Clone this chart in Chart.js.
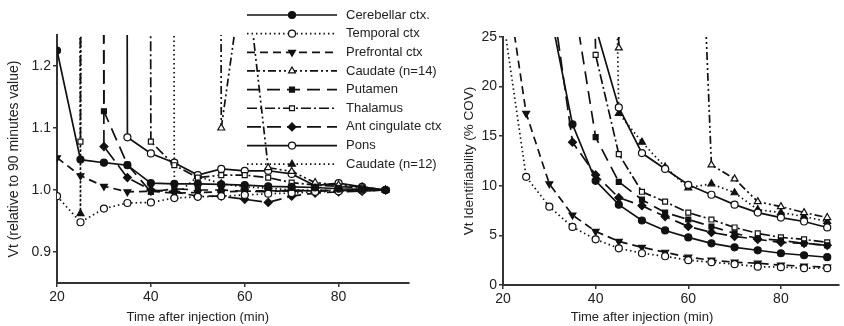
<!DOCTYPE html>
<html>
<head>
<meta charset="utf-8">
<script src="https://cdn.jsdelivr.net/npm/chart.js@4.4.1/dist/chart.umd.min.js"></script>
<style>
  html, body { margin: 0; padding: 0; background: #fff; }
  #wrap { position: relative; width: 844px; height: 326px; overflow: hidden; }
  canvas { position: absolute; top: 0; }
  #vtChart { left: 0; }
  #covChart { left: 452px; }
</style>
</head>
<body>
<div id="wrap">
  <canvas id="vtChart" width="460" height="326"></canvas>
  <canvas id="covChart" width="392" height="326"></canvas>
</div>
<script>
// time points (min after injection)
const times = [20, 25, 30, 35, 40, 45, 50, 55, 60, 65, 70, 75, 80, 85, 90];
const regions = ['Cerebellar ctx.', 'Temporal ctx', 'Prefrontal ctx', 'Caudate (n=14)', 'Putamen',
                 'Thalamus', 'Ant cingulate ctx', 'Pons', 'Caudate (n=12)'];

// Vt relative to the 90 minute value (values above 1.25 run off the top of the plot)
const cerebellarVt = [1.225, 1.049, 1.044, 1.040, 1.011, 1.010, 1.010, 1.009, 1.008, 1.006, 1.005, 1.004, 1.002, 1.001, 1.000];
const temporalVt   = [0.990, 0.948, 0.970, 0.979, 0.980, 0.987, 0.989, 0.990, 0.992, 0.994, 0.995, 0.997, 0.998, 0.999, 1.000];
const prefrontalVt = [1.052, 1.023, 1.006, 0.997, 0.998, 0.995, 0.996, 0.997, 0.998, 0.999, 0.998, 0.999, 1.000, 0.999, 1.000];
const caudate14Vt  = [null, null, null, null, null, null, 20, 1.100, 1.370, 1.036, 1.030, 1.012, 1.008, 1.005, 1.000];
const putamenVt    = [null, 20, 1.127, 1.041, 0.997, 1.002, 1.000, 1.000, 0.998, 0.997, 1.000, 0.998, 0.999, 1.000, 1.000];
const thalamusVt   = [20, 1.078, 20, 20, 1.078, 1.040, 1.020, 1.024, 1.024, 1.020, 1.012, 1.008, 1.006, 1.003, 1.000];
const antCingVt    = [null, 20, 1.070, 1.020, 1.000, 0.997, 0.990, 0.990, 0.985, 0.980, 0.990, 0.995, 0.997, 0.998, 1.000];
const ponsVt       = [null, null, 20, 1.085, 1.059, 1.044, 1.024, 1.034, 1.031, 1.031, 1.026, 1.007, 1.011, 1.005, 1.000];
const caudate12Vt  = [20, 0.962, 20, 20, 20, 0.990, 1.022, 1.010, 1.005, 1.003, 1.000, 1.000, 0.999, 1.000, 1.000];

// Vt identifiability (% COV)
const cerebellarCov = [null, null, 28, 16.2, 10.5, 8.1, 6.5, 5.5, 4.8, 4.2, 3.8, 3.5, 3.2, 3.0, 2.8];
const temporalCov   = [27, 10.9, 7.9, 5.85, 4.6, 3.7, 3.2, 2.9, 2.5, 2.3, 2.1, 1.85, 1.8, 1.7, 1.7];
const prefrontalCov = [33, 17.3, 10.2, 7.05, 5.4, 4.4, 3.8, 3.3, 2.8, 2.5, 2.3, 2.2, 2.0, 1.9, 1.8];
const caudate14Cov  = [null, null, null, null, 150, 23.9, 150, 120, 70, 12.1, 10.7, 8.4, 7.9, 7.3, 6.8];
const putamenCov    = [null, null, null, 29.5, 14.9, 10.4, 8.6, 7.3, 6.6, 5.9, 5.2, 4.7, 4.5, 4.2, 4.0];
const thalamusCov   = [null, null, null, 150, 23.2, 13.2, 9.4, 8.4, 7.3, 6.6, 5.8, 5.2, 4.8, 4.6, 4.3];
const antCingCov    = [null, null, 31, 14.4, 11.1, 8.8, 8.0, 6.9, 5.9, 5.3, 4.9, 4.6, 4.3, 4.2, 4.0];
const ponsCov       = [null, null, null, null, 26, 17.9, 13.3, 11.7, 10.1, 9.1, 8.1, 7.3, 6.8, 6.4, 5.8];
const caudate12Cov  = [null, null, null, null, 150, 17.3, 14.4, 11.9, 9.8, 10.2, 9.3, 7.6, 7.3, 6.9, 6.4];

const xTicks = [20, 40, 60, 80];
const vtTicks = [0.9, 1.0, 1.1, 1.2];
const covTicks = [0, 5, 10, 15, 20, 25];

// line / marker style for each region (same order as regions)
const styles = [
  { dash: [],               point: 'circle',   fill: true,  r: 3.5 },
  { dash: [1.5, 3],         point: 'circle',   fill: false, r: 3.5 },
  { dash: [8, 5],           point: 'triangle', fill: true,  r: 4, rot: 180 },
  { dash: [8, 3, 2, 3, 2, 3], point: 'triangle', fill: false, r: 4 },
  { dash: [13, 7],          point: 'rect',     fill: true,  r: 3.5 },
  { dash: [10, 3, 2, 3],    point: 'rect',     fill: false, r: 3.5 },
  { dash: [14, 6],          point: 'rectRot',  fill: true,  r: 4 },
  { dash: [],               point: 'circle',   fill: false, r: 3.5 },
  { dash: [1.5, 3],         point: 'triangle', fill: true,  r: 4 }
];

const ink = '#111';
const axisColor = '#333';
Chart.defaults.font.family = '"Liberation Sans", Arial, sans-serif';
Chart.defaults.color = '#222';

function makeDatasets(series) {
  return series.map((vals, i) => ({
    label: regions[i],
    data: times.map((t, j) => ({ x: t, y: vals[j] })),
    borderColor: ink,
    borderWidth: 1.7,
    borderDash: styles[i].dash,
    pointStyle: styles[i].point,
    pointRotation: styles[i].rot || 0,
    pointRadius: styles[i].r,
    pointBorderWidth: 1.2,
    pointBorderColor: ink,
    pointBackgroundColor: styles[i].fill ? ink : '#fff',
    backgroundColor: styles[i].fill ? ink : '#fff',
    tension: 0
  }));
}

// legend drawn inside the left panel, lines with the marker in the middle
const sideLegend = {
  id: 'sideLegend',
  afterDraw(chart, args, opts) {
    if (!opts.show) return;
    const ctx = chart.ctx;
    ctx.save();
    chart.data.datasets.forEach((ds, i) => {
      const y = 15 + i * 18.65;
      ctx.strokeStyle = ink;
      ctx.lineWidth = ds.borderWidth;
      ctx.setLineDash(ds.borderDash);
      ctx.beginPath();
      ctx.moveTo(247, y);
      ctx.lineTo(337, y);
      ctx.stroke();
      ctx.setLineDash([]);
      ctx.fillStyle = ds.pointBackgroundColor;
      ctx.strokeStyle = ink;
      ctx.lineWidth = ds.pointBorderWidth;
      Chart.helpers.drawPoint(ctx, {
        pointStyle: ds.pointStyle, rotation: ds.pointRotation,
        radius: ds.pointRadius, borderWidth: ds.pointBorderWidth
      }, 292, y);
      ctx.fillStyle = '#222';
      ctx.font = '13px "Liberation Sans", Arial, sans-serif';
      ctx.textBaseline = 'middle';
      ctx.textAlign = 'left';
      ctx.fillText(ds.label, 346, y);
    });
    ctx.restore();
  }
};

// x title centred over the labelled tick range
const xTitle = {
  id: 'xTitle',
  afterDraw(chart, args, opts) {
    const xs = chart.scales.x;
    const a = xs.getPixelForValue(xs.ticks[0].value);
    const b = xs.getPixelForValue(xs.ticks[xs.ticks.length - 1].value);
    const ctx = chart.ctx;
    ctx.save();
    ctx.fillStyle = '#222';
    ctx.font = '13px "Liberation Sans", Arial, sans-serif';
    ctx.textAlign = 'center';
    ctx.textBaseline = 'middle';
    ctx.fillText(opts.text, (a + b) / 2, chart.height - 9);
    ctx.restore();
  }
};

function makeChart(id, series, cfg) {
  return new Chart(document.getElementById(id), {
    type: 'line',
    data: { datasets: makeDatasets(series) },
    plugins: [sideLegend, xTitle],
    options: {
      responsive: false,
      animation: false,
      layout: { padding: { left: 0, top: cfg.top, right: cfg.right, bottom: 0 } },
      plugins: {
        legend: { display: false },
        tooltip: { enabled: false },
        sideLegend: { show: cfg.legend },
        xTitle: { text: 'Time after injection (min)' }
      },
      scales: {
        x: {
          type: 'linear',
          min: 20,
          max: cfg.xMax,
          afterBuildTicks: s => { s.ticks = xTicks.map(v => ({ value: v })); },
          afterFit: s => { s.height = cfg.xHeight; },
          ticks: { font: { size: 14 }, padding: 2, maxRotation: 0 },
          grid: { drawOnChartArea: false, drawTicks: true, tickLength: 4, color: axisColor, lineWidth: 1.5 },
          border: { display: true, color: axisColor, width: 2 }
        },
        y: {
          min: cfg.yMin,
          max: cfg.yMax,
          afterBuildTicks: s => { s.ticks = cfg.yTicks.map(v => ({ value: v })); },
          afterFit: s => { s.width = cfg.yWidth; },
          ticks: { font: { size: 14 }, padding: 2, callback: cfg.fmt },
          grid: { drawOnChartArea: false, drawTicks: true, tickLength: 4, color: axisColor, lineWidth: 1.5 },
          border: { display: true, color: axisColor, width: 2 },
          title: {
            display: true, text: cfg.yTitle,
            font: { size: cfg.titleSize }, padding: { top: cfg.titlePad, bottom: 0 }
          }
        }
      }
    }
  });
}

makeChart('vtChart',
  [cerebellarVt, temporalVt, prefrontalVt, caudate14Vt, putamenVt, thalamusVt, antCingVt, ponsVt, caudate12Vt],
  { top: 35, right: 51, xMax: 95, xHeight: 43, yMin: 0.85, yMax: 1.25, yTicks: vtTicks, yWidth: 57,
    fmt: v => v.toFixed(1), yTitle: 'Vt (relative to 90 minutes value)', titleSize: 14, titlePad: 6, legend: true });

makeChart('covChart',
  [cerebellarCov, temporalCov, prefrontalCov, caudate14Cov, putamenCov, thalamusCov, antCingCov, ponsCov, caudate12Cov],
  { top: 37, right: 0, xMax: 92.5, xHeight: 41, yMin: 0, yMax: 25, yTicks: covTicks, yWidth: 51,
    fmt: v => v, yTitle: 'Vt Identifiability (% COV)', titleSize: 13.5, titlePad: 9.5, legend: false });
</script>
</body>
</html>
